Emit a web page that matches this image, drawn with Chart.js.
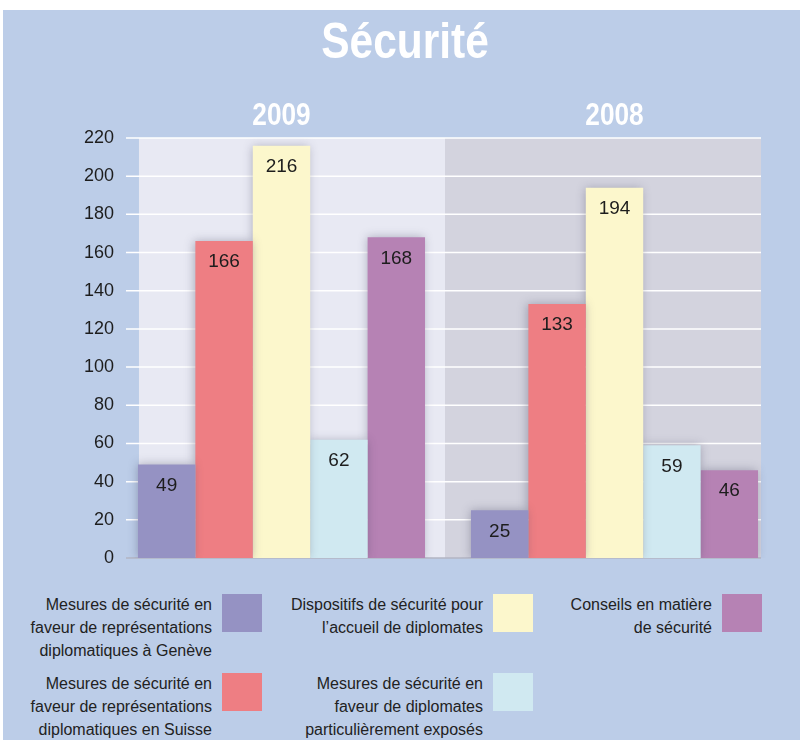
<!DOCTYPE html>
<html lang="fr">
<head>
<meta charset="utf-8">
<title>Sécurité</title>
<script src="https://cdn.jsdelivr.net/npm/chart.js@4.4.1/dist/chart.umd.min.js"></script>
<style>
  html, body { margin: 0; padding: 0; background: #fff; }
  body { width: 800px; height: 740px; position: relative; overflow: hidden; font-family: "Liberation Sans", Arial, sans-serif; }
  #bg { position: absolute; left: 3px; top: 10px; right: 0; bottom: 0; background: #bccde8; }
  #wrap { position: absolute; left: 0; top: 0; width: 800px; height: 580px; }
  #legend { position: absolute; left: 20px; top: 594px; display: grid; grid-template-columns: 242px 271px 229px; grid-template-rows: 79px 79px; grid-auto-flow: column; }
  .item { display: flex; justify-content: flex-end; align-items: flex-start; }
  .item span { white-space: pre-line; text-align: right; font-size: 16px; line-height: 23px; color: #222; margin-right: 10px; margin-top: -1px; }
  .item i { display: block; width: 40px; height: 38px; flex: none; }
</style>
</head>
<body>
<div id="bg"></div>
<div id="wrap"><canvas id="chart" width="800" height="580"></canvas></div>
<div id="legend"></div>
<script>
const title = "Sécurité";
const years = ["2009", "2008"];

const seriesLabels = [
  "Mesures de sécurité en\nfaveur de représentations\ndiplomatiques à Genève",
  "Mesures de sécurité en\nfaveur de représentations\ndiplomatiques en Suisse",
  "Dispositifs de sécurité pour\nl’accueil de diplomates",
  "Mesures de sécurité en\nfaveur de diplomates\nparticulièrement exposés",
  "Conseils en matière\nde sécurité",
];
const seriesColors = ["#9592c3", "#ee7e83", "#fcf7cc", "#d0e9f1", "#b682b4"];

const geneve = [49, 25];
const suisse = [166, 133];
const accueil = [216, 194];
const exposes = [62, 59];
const conseils = [168, 46];

const yMin = 0;
const yMax = 220;
const yStep = 20;

const panelColors = ["#e8e9f3", "#d3d3de"];
const sans = '"Liberation Sans", Arial, sans-serif';

const seriesValues = [geneve, suisse, accueil, exposes, conseils];

// condensed bold white text (no narrow font installed, so squeeze it)
function narrowText(ctx, text, cx, baseline, size, squeeze) {
  ctx.save();
  ctx.font = `bold ${size}px ${sans}`;
  ctx.fillStyle = "#ffffff";
  ctx.textAlign = "center";
  ctx.textBaseline = "alphabetic";
  ctx.translate(cx, baseline);
  ctx.scale(squeeze, 1);
  ctx.fillText(text, 0, 0);
  ctx.restore();
}

// panels, white grid lines, bar shadows, value labels, title and years
const decor = {
  id: "decor",
  beforeDatasetsDraw(chart) {
    const { ctx, scales: { x, y } } = chart;
    const first = chart.getDatasetMeta(0).data[0];
    const lastMeta = chart.getDatasetMeta(chart.data.datasets.length - 1);
    const last = lastMeta.data[lastMeta.data.length - 1];
    const left = first.x - first.width / 2;
    const right = last.x + last.width / 2;
    const mid = (x.getPixelForValue(0) + x.getPixelForValue(1)) / 2;
    const top = y.getPixelForValue(yMax);
    const bottom = y.getPixelForValue(yMin);

    ctx.save();
    ctx.fillStyle = panelColors[0];
    ctx.fillRect(left + 1, top, mid - left - 4, bottom - top);
    ctx.fillStyle = panelColors[1];
    ctx.fillRect(mid - 3, top, right - mid + 6, bottom - top);
    ctx.lineWidth = 1.5;
    y.ticks.forEach((t) => {
      const py = y.getPixelForValue(t.value);
      ctx.strokeStyle = t.value === 0 ? "#b3b5c3" : "#ffffff";
      ctx.beginPath();
      ctx.moveTo(left - 12, py);
      ctx.lineTo(right + 3, py);
      ctx.stroke();
    });
    ctx.restore();

    ctx.save();
    ctx.shadowColor = "rgba(60, 60, 90, 0.35)";
    ctx.shadowBlur = 9;
    ctx.shadowOffsetX = -1;
    ctx.shadowOffsetY = 0;
  },
  afterDatasetsDraw(chart) {
    const { ctx, scales: { x } } = chart;
    ctx.restore();
    ctx.save();
    ctx.font = `19px ${sans}`;
    ctx.fillStyle = "#1d1d1d";
    ctx.textAlign = "center";
    ctx.textBaseline = "middle";
    chart.data.datasets.forEach((ds, i) => {
      chart.getDatasetMeta(i).data.forEach((bar, j) => {
        ctx.fillText(String(ds.data[j]), bar.x, bar.y + 21);
      });
    });
    ctx.restore();

    narrowText(ctx, title, 405, 58, 50, 0.85);
    chart.data.labels.forEach((label, i) => {
      narrowText(ctx, label, x.getPixelForValue(i), 125, 32, 0.82);
    });
  },
};

new Chart(document.getElementById("chart"), {
  type: "bar",
  data: {
    labels: years,
    datasets: seriesValues.map((values, i) => ({
      label: seriesLabels[i],
      data: values,
      backgroundColor: seriesColors[i],
      borderWidth: 0,
      barPercentage: 1,
      categoryPercentage: 0.862,
    })),
  },
  options: {
    responsive: false,
    animation: false,
    layout: { padding: { left: 29, right: 19, top: 138, bottom: 22 } },
    plugins: {
      legend: { display: false },
      tooltip: { enabled: false },
    },
    scales: {
      x: {
        display: false,
      },
      y: {
        min: yMin,
        max: yMax,
        grid: { display: false, drawTicks: false },
        border: { display: false },
        ticks: {
          stepSize: yStep,
          padding: 1,
          color: "#1d1d1d",
          font: { family: sans, size: 18 },
        },
        afterFit(scale) {
          scale.width = 86;
        },
      },
    },
  },
  plugins: [decor],
});

// legend: column-wise, two rows
const legendEl = document.getElementById("legend");
legendEl.innerHTML = seriesLabels
  .map(
    (label, i) =>
      `<div class="item"><span>${label}</span><i style="background:${seriesColors[i]}"></i></div>`
  )
  .join("");
</script>
</body>
</html>
